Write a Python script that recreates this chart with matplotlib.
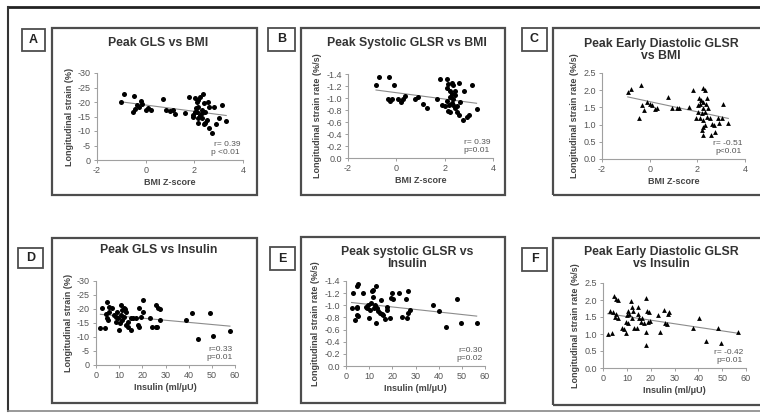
import numpy as np
import matplotlib
matplotlib.use("Agg")
import matplotlib.pyplot as plt
from matplotlib.patches import Rectangle
from matplotlib.lines import Line2D
from matplotlib.ticker import FormatStrFormatter

plt.rcParams['font.family'] = ['Liberation Sans', 'DejaVu Sans']
plt.rcParams['axes.unicode_minus'] = False

# panel A: peak GLS vs BMI z-score
a_x = [-1.0, -0.88, -0.46, -0.21, -0.35, -0.53, -0.42, -0.28, -0.14, 0.0, 0.1, 0.21, 0.7, 0.84,
       0.98, 1.12, 1.22, 1.6, 1.78, 1.93, 2.03, 2.1, 2.17, 2.24, 2.34, 2.38, 2.17, 2.1, 1.96, 2.24,
       2.31, 2.17, 2.38, 2.52, 2.31, 2.45, 2.56, 2.62, 2.81, 2.87, 3.03, 3.12, 3.31, 2.59, 2.73,
       2.03, 2.14, 2.31, 2.45, 2.07]
a_y = [-20.1, -22.6, -22.2, -20.5, -19.0, -16.7, -17.5, -18.2, -19.2, -17.2, -17.8, -17.4, -20.9,
       -17.2, -16.9, -17.2, -15.7, -16.1, -21.8, -14.9, -21.3, -20.1, -20.7, -21.8, -22.9, -19.5,
       -18.4, -16.7, -15.5, -15.5, -14.4, -12.6, -12.3, -13.8, -17.2, -16.7, -20.1, -18.4, -18.3,
       -12.3, -14.4, -19.0, -13.4, -10.9, -9.2, -16.7, -14.4, -16.1, -12.6, -17.8]

# panel B: peak systolic GLSR vs BMI z-score
b_x = [-0.84, -0.7, -0.29, -0.1, -0.36, -0.26, -0.19, 0.08, 0.18, 0.29, 0.36, 0.77, 0.91, 1.12,
       1.26, 1.67, 1.81, 1.88, 2.08, 2.15, 2.22, 2.29, 2.36, 2.43, 2.22, 2.08, 2.29, 2.36, 2.15,
       2.22, 2.43, 2.52, 2.61, 2.63, 2.8, 2.61, 2.74, 2.91, 3.02, 3.12, 3.32, 2.01, 2.19, 2.36,
       2.5, 2.29, 2.11, 2.43]
b_y = [-1.21, -1.355, -1.355, -1.21, -0.98, -0.95, -0.98, -0.98, -0.94, -0.98, -1.04, -0.98, -1.01,
       -0.9, -0.84, -0.98, -1.32, -0.885, -1.32, -1.23, -1.12, -1.25, -1.21, -1.12, -1.01, -0.95,
       -0.91, -0.98, -0.78, -0.76, -0.83, -0.76, -1.25, -0.94, -1.11, -0.71, -0.63, -0.69, -0.71,
       -1.21, -0.81, -0.86, -0.885, -0.885, -0.86, -1.06, -1.16, -1.05]

# panel C: peak early diastolic GLSR vs BMI z-score
c_x = [-0.92, -0.78, -0.36, -0.43, -0.34, -0.24, -0.1, 0.01, 0.08, 0.22, 0.32, 0.76, 0.92, 1.16,
       1.24, 1.65, 1.8, 1.94, 2.04, 2.08, 2.14, 2.25, 2.32, 2.11, 2.25, 2.36, 2.18, 2.32, 2.11,
       2.25, 2.32, 2.22, 2.46, 2.53, 2.6, 2.7, 2.57, 2.74, 2.85, 2.92, 3.02, 3.09, 3.3, 2.39,
       2.25, 2.04, 2.42, 2.25, 2.18]
c_y = [1.96, 2.04, 2.14, 1.2, 1.57, 1.43, 1.67, 1.6, 1.57, 1.45, 1.49, 1.8, 1.47, 1.47, 1.49,
       1.52, 2.0, 1.18, 1.38, 1.77, 1.72, 2.06, 2.01, 1.59, 1.67, 1.59, 1.33, 1.38, 1.18, 1.13,
       0.99, 0.69, 1.49, 1.18, 1.01, 0.99, 0.71, 0.79, 1.18, 1.04, 1.2, 1.59, 1.05, 1.23, 1.47,
       1.57, 1.77, 0.94, 0.84]

# panel D: peak GLS vs insulin
d_x = [1.9, 3.8, 2.6, 4.8, 5.5, 4.4, 4.8, 5.3, 5.8, 7.0, 7.7, 8.5, 8.8, 9.2, 9.6, 9.9, 10.2,
       10.7, 11.0, 11.4, 11.9, 12.6, 13.1, 11.4, 12.1, 12.8, 13.6, 14.0, 15.0, 15.0, 16.1, 17.2,
       18.0, 18.4, 18.4, 19.4, 20.4, 20.4, 23.4, 24.2, 25.7, 26.4, 26.0, 26.7, 27.5, 27.7, 38.7,
       41.3, 44.1, 49.1, 50.5, 57.8]
d_y = [-13.1, -13.1, -20.2, -22.6, -20.8, -18.1, -16.9, -16.1, -19.0, -20.2, -17.9, -17.3, -15.5,
       -19.0, -16.7, -12.5, -14.9, -17.9, -21.4, -19.6, -20.5, -20.0, -19.0, -16.1, -17.3, -14.3,
       -15.5, -13.7, -12.5, -16.7, -16.7, -16.9, -14.3, -13.7, -20.2, -17.3, -23.2, -19.0, -16.7,
       -13.7, -13.7, -13.7, -21.4, -20.2, -16.1, -20.0, -16.1, -18.5, -9.2, -18.5, -10.4, -12.1]

# panel E: peak systolic GLSR vs insulin
e_x = [2.4, 2.9, 3.9, 4.6, 4.6, 4.9, 5.3, 4.9, 5.3, 7.2, 8.6, 8.9, 9.6, 10.1, 10.4, 10.7, 11.1,
       11.5, 11.8, 12.1, 12.5, 12.9, 12.9, 13.5, 13.9, 14.7, 14.9, 15.4, 16.1, 16.8, 17.6, 17.8,
       19.0, 19.3, 19.7, 20.1, 23.0, 24.0, 25.8, 26.2, 26.9, 26.9, 27.6, 37.7, 40.3, 43.2, 48.1,
       49.6, 56.4]
e_y = [-0.95, -1.21, -0.76, -0.95, -0.84, -1.32, -1.35, -0.98, -0.82, -1.21, -0.98, -0.95, -1.01,
       -0.79, -0.93, -1.04, -1.23, -1.25, -1.13, -0.96, -1.01, -1.31, -0.71, -0.95, -0.91, -0.88,
       -1.08, -0.85, -0.84, -0.77, -0.98, -0.92, -0.79, -1.12, -1.21, -1.1, -1.21, -0.81, -1.1,
       -0.79, -1.24, -0.88, -0.93, -1.01, -0.91, -0.65, -1.1, -0.71, -0.71]

# panel F: peak early diastolic GLSR vs insulin
f_x = [2.0, 3.9, 2.9, 4.8, 5.3, 6.4, 4.3, 5.0, 5.3, 6.2, 8.1, 8.9, 9.5, 9.5, 9.9, 10.3, 10.6,
       10.9, 11.8, 12.0, 12.3, 12.7, 13.1, 14.1, 14.5, 14.8, 15.1, 15.9, 16.5, 17.4, 17.9, 17.9,
       17.9, 18.3, 18.7, 19.3, 19.7, 22.9, 23.9, 25.7, 26.0, 26.7, 27.4, 27.7, 37.9, 40.3, 43.2,
       48.4, 49.5, 56.8]
f_y = [0.99, 1.02, 1.69, 2.13, 2.03, 2.0, 1.66, 1.51, 1.58, 1.46, 1.19, 1.15, 1.02, 1.36, 1.56,
       1.68, 1.31, 1.58, 1.97, 1.8, 1.48, 1.68, 1.19, 1.17, 1.58, 1.8, 1.46, 1.36, 1.46, 1.31,
       2.07, 1.07, 0.68, 1.68, 1.36, 1.64, 1.38, 1.56, 1.05, 1.71, 1.31, 1.28, 1.58, 1.64, 1.19,
       1.48, 0.79, 1.19, 0.73, 1.05]

W, H = 760, 420
fig = plt.figure(figsize=(7.6, 4.2), dpi=100)
fig.patch.set_facecolor('white')

def px_axes(l, t, r, b):
    return fig.add_axes([l / W, 1 - b / H, (r - l) / W, (b - t) / H])

def box(l, t, r, b, lw=1.4, ec='#555555'):
    fig.patches.append(Rectangle((l / W, 1 - b / H), (r - l) / W, (b - t) / H,
                                 transform=fig.transFigure, fill=False, ec=ec, lw=lw))

# outer frame lines
fig.lines.append(Line2D([8 / W, 1], [1 - 7 / H, 1 - 7 / H], transform=fig.transFigure, color='#222222', lw=2))
fig.lines.append(Line2D([8 / W, 8 / W], [1 - 7 / H, 1 - 411 / H], transform=fig.transFigure, color='#333333', lw=1.5))
fig.lines.append(Line2D([8 / W, 1], [1 - 411 / H, 1 - 411 / H], transform=fig.transFigure, color='#888888', lw=1.2))

panels = [
    # letter, letter box, panel box, axes box, title, title y, x, y, marker, xlim, ylim, yticks, fmt, xlabel, ylabel, stats
    ('A', (22, 29, 45, 51), (52, 28, 257, 195), (97, 73, 243, 160), 'Peak GLS vs BMI', 43,
     a_x, a_y, 'o', (-2, 4), (0, -30), np.arange(0, -31, -5), '%d', 'BMI Z-score',
     'Longitudinal strain (%)', 'r= 0.39\np <0.01'),
    ('B', (268, 28, 295, 51), (301, 28, 505, 195), (348, 74, 493, 158), 'Peak Systolic GLSR vs BMI', 43,
     b_x, b_y, 'o', (-2, 4), (0, -1.4), np.round(np.arange(0, -1.41, -0.2), 1), '%.1f', 'BMI Z-score',
     'Longitudinal strain rate (%/s)', 'r= 0.39\np=0.01'),
    ('C', (522, 28, 547, 51), (553, 28, 762, 195), (602, 73, 745, 159), 'Peak Early Diastolic GLSR\nvs BMI', 50,
     c_x, c_y, '^', (-2, 4), (0, 2.5), np.arange(0, 2.51, 0.5), '%.1f', 'BMI Z-score',
     'Longitudinal strain rate (%/s)', 'r= -0.51\np<0.01'),
    ('D', (18, 248, 43, 268), (52, 238, 257, 403), (96, 281, 235, 365), 'Peak GLS vs Insulin', 250,
     d_x, d_y, 'o', (0, 60), (0, -30), np.arange(0, -31, -5), '%d', 'Insulin (ml/\u03bcU)',
     'Longitudinal strain (%)', 'r=0.33\np=0.01'),
    ('E', (270, 247, 295, 270), (301, 237, 505, 403), (346, 281, 485, 366), 'Peak systolic GLSR vs\nInsulin', 258,
     e_x, e_y, 'o', (0, 60), (0, -1.4), np.round(np.arange(0, -1.41, -0.2), 1), '%.1f', 'Insulin (ml/\u03bcU)',
     'Longitudinal strain rate (%/s)', 'r=0.30\np=0.02'),
    ('F', (522, 248, 547, 271), (553, 238, 762, 405), (603, 283, 746, 368), 'Peak Early Diastolic GLSR\nvs Insulin', 258,
     f_x, f_y, '^', (0, 60), (0, 2.5), np.arange(0, 2.51, 0.5), '%.1f', 'Insulin (ml/\u03bcU)',
     'Longitudinal strain rate (%/s)', 'r= -0.42\np=0.01'),
]

for (letter, lb, pb, ab, title, ty, xs, ys, mk, xlim, ylim, yt, fmt, xlab, ylab, stats) in panels:
    box(*pb, lw=1.6, ec='#4d4d4d')
    box(*lb, lw=1.3, ec='#4d4d4d')
    fig.text((lb[0] + lb[2]) / 2 / W, 1 - (lb[1] + lb[3]) / 2 / H, letter, ha='center', va='center',
             fontsize=9, fontweight='bold', color='#222222')
    fig.text((pb[0] + pb[2]) / 2 / W + 0.005, 1 - ty / H, title, ha='center', va='center',
             fontsize=8.8, fontweight='bold', color='#333333', linespacing=1.05)

    ax = px_axes(*ab)
    xs = np.array(xs)
    ys = np.array(ys)
    size = 13 if mk == 'o' else 12
    ax.scatter(xs, ys, s=size, marker=mk, color='black', zorder=3, linewidths=0)
    k, c = np.polyfit(xs, ys, 1)
    lx = np.array([xs.min(), xs.max()])
    ax.plot(lx, k * lx + c, color='#8c8c8c', lw=0.8, zorder=2)

    ax.set_xlim(*xlim)
    ax.set_ylim(*ylim)
    if xlim[1] == 4:
        ax.set_xticks([-2, 0, 2, 4])
    else:
        ax.set_xticks(np.arange(0, 61, 10))
    ax.set_yticks(yt)
    ax.yaxis.set_major_formatter(FormatStrFormatter(fmt))
    for s in ['top', 'right']:
        ax.spines[s].set_visible(False)
    for s in ['left', 'bottom']:
        ax.spines[s].set_color('#a0a0a0')
        ax.spines[s].set_linewidth(0.8)
    ax.tick_params(colors='#a0a0a0', labelcolor='#555555', labelsize=6.5, length=2.5, width=0.7, pad=2)
    ax.set_xlabel(xlab, fontsize=6.5, fontweight='bold', color='#444444', labelpad=2)
    ax.set_ylabel(ylab, fontsize=6.5, fontweight='bold', color='#444444', labelpad=3)
    ax.patch.set_alpha(0)
    ax.text(0.98, 0.05, stats, transform=ax.transAxes, ha='right', va='bottom',
            fontsize=6, color='#555555', linespacing=1.1)

fig.savefig('out.png', dpi=100, facecolor='white')
